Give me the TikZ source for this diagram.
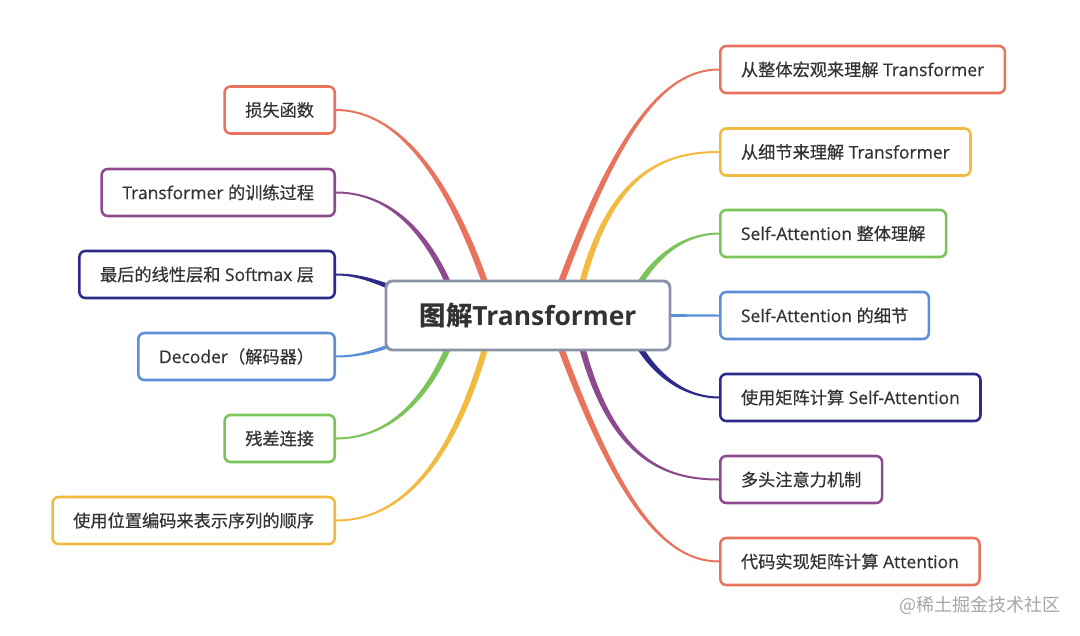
\documentclass[tikz,border=0pt]{standalone}
\usepackage{fontspec}
\setmainfont{Open Sans}
\newfontfamily\topicfont{Open Sans}[FakeBold=0.5]
\newfontfamily\cjk{Noto Sans CJK SC}[FakeBold=0.5, Scale=0.985]
\newfontfamily\cjkroot{Noto Sans CJK SC}
\usepackage{xcolor}
\usepackage{tikz}
\usetikzlibrary{calc,backgrounds}

\definecolor{tred}{HTML}{E9745E}
\definecolor{tyellow}{HTML}{F2BA3E}
\definecolor{tgreen}{HTML}{7AC45A}
\definecolor{tblue}{HTML}{5B90D6}
\definecolor{tindigo}{HTML}{2E2A8A}
\definecolor{tpurple}{HTML}{8E4A8E}
\definecolor{rootgray}{HTML}{8A92A5}
\definecolor{textgray}{HTML}{333333}
\definecolor{markgray}{HTML}{A6A6A6}

\tikzset{
  topic/.style={draw=#1, line width=1.9pt, rounded corners=4.5pt, fill=white,
    text=textgray, font=\topicfont\fontsize{13.1}{15}\selectfont,
    inner xsep=15.5pt, inner ysep=0pt, minimum height=35.25pt},
  rootbox/.style={draw=rootgray, line width=2.2pt, rounded corners=5pt, fill=white,
    text=textgray, font=\fontsize{19.8}{22}\selectfont\bfseries,
    minimum width=213pt, minimum height=51.75pt}
}

% tapered branch: colour, root point, half width, first control, second control, topic anchor
\newcommand{\branch}[6]{%
  \fill[#1] ($(#2)+(#3)$) .. controls +(#4) and +(#5) .. ($(#6)+(0,-1)$)
    -- ($(#6)+(0,1)$) .. controls +(#5) and +(#4) .. ($(#2)-(#3)$) -- cycle;}

\begin{document}
\begin{tikzpicture}[x=0.75pt,y=-0.75pt]
  \useasboundingbox (0,0) rectangle (1080,635);

  % Central topic
  \node[rootbox] (root) at (528,315.5) {{\cjkroot 图解}Transformer};

  % Right topics
  \node[topic=tred, anchor=west] (r1) at (719,69.5) {{\cjk 从整体宏观来理解} Transformer};
  \node[topic=tyellow, anchor=west] (r2) at (719,152) {{\cjk 从细节来理解} Transformer};
  \node[topic=tgreen, anchor=west] (r3) at (719,233.5) {Self-Attention {\cjk 整体理解}};
  \node[topic=tblue, anchor=west] (r4) at (719,315.5) {Self-Attention {\cjk 的细节}};
  \node[topic=tindigo, anchor=west] (r5) at (719,397.5) {{\cjk 使用矩阵计算} Self-Attention};
  \node[topic=tpurple, anchor=west] (r6) at (719,479.5) {{\cjk 多头注意力机制}};
  \node[topic=tred, anchor=west] (r7) at (719,561.5) {{\cjk 代码实现矩阵计算} Attention};

  % Left topics
  \node[topic=tred, anchor=east] (l1) at (336,110) {{\cjk 损失函数}};
  \node[topic=tpurple, anchor=east] (l2) at (336,192.5) {Transformer {\cjk 的训练过程}};
  \node[topic=tindigo, anchor=east] (l3) at (336,274.5) {{\cjk 最后的线性层和} Softmax {\cjk 层}};
  \node[topic=tblue, anchor=east] (l4) at (336,356.5) {Decoder{\cjk （解码器）}};
  \node[topic=tgreen, anchor=east] (l5) at (336,438.5) {{\cjk 残差连接}};
  \node[topic=tyellow, anchor=east] (l6) at (336,520.5) {{\cjk 使用位置编码来表示序列的顺序}};

  % Watermark
  \node[anchor=west, inner sep=0pt, text=markgray, font=\cjkroot\fontsize{13.5}{15}\selectfont] (mark) at (899,605) {@稀土掘金技术社区};

  % Branch roots behind the central topic
  \coordinate (rs1) at (555,299);
  \coordinate (rs2) at (578,300);
  \coordinate (rs3) at (631,299);
  \coordinate (rs4) at (655,315.5);
  \coordinate (rs5) at (631,332);
  \coordinate (rs6) at (578,331);
  \coordinate (rs7) at (555,332);
  \coordinate (ls1) at (491,300);
  \coordinate (ls2) at (455,300);
  \coordinate (ls3) at (410,295);
  \coordinate (ls4) at (410,338);
  \coordinate (ls5) at (455,331);
  \coordinate (ls6) at (490,331);

  \begin{scope}[on background layer]
    \fill[white] (0,0) rectangle (1080,635);
    % Right branches
    \branch{tred}{rs1}{-3,-1}{58,-160}{-59,0}{r1.west}
    \branch{tyellow}{rs2}{-3,-0.7}{29,-129}{-54,0}{r2.west}
    \branch{tgreen}{rs3}{-2.7,-1.3}{24,-49}{-29,0}{r3.west}
    \branch{tblue}{rs4}{0,-1.5}{20,0}{-20,0}{r4.west}
    \branch{tindigo}{rs5}{2.7,-1.3}{24,49}{-29,0}{r5.west}
    \branch{tpurple}{rs6}{3,-0.7}{30,129}{-54,0}{r6.west}
    \branch{tred}{rs7}{3,-1}{58,160}{-59,0}{r7.west}
    % Left branches
    \branch{tred}{ls1}{3,-1}{-46,-139}{54,0}{l1.east}
    \branch{tpurple}{ls2}{2.8,-1}{-30,-80}{44,0}{l2.east}
    \branch{tindigo}{ls3}{1,-2.5}{-30,-12}{25,0}{l3.east}
    \branch{tblue}{ls4}{-0.7,-1.9}{-30,12}{25,0}{l4.east}
    \branch{tgreen}{ls5}{-2.8,-1}{-30,80}{44,0}{l5.east}
    \branch{tyellow}{ls6}{-2.9,-0.8}{-40,150}{54,0}{l6.east}
  \end{scope}
\end{tikzpicture}
\end{document}
